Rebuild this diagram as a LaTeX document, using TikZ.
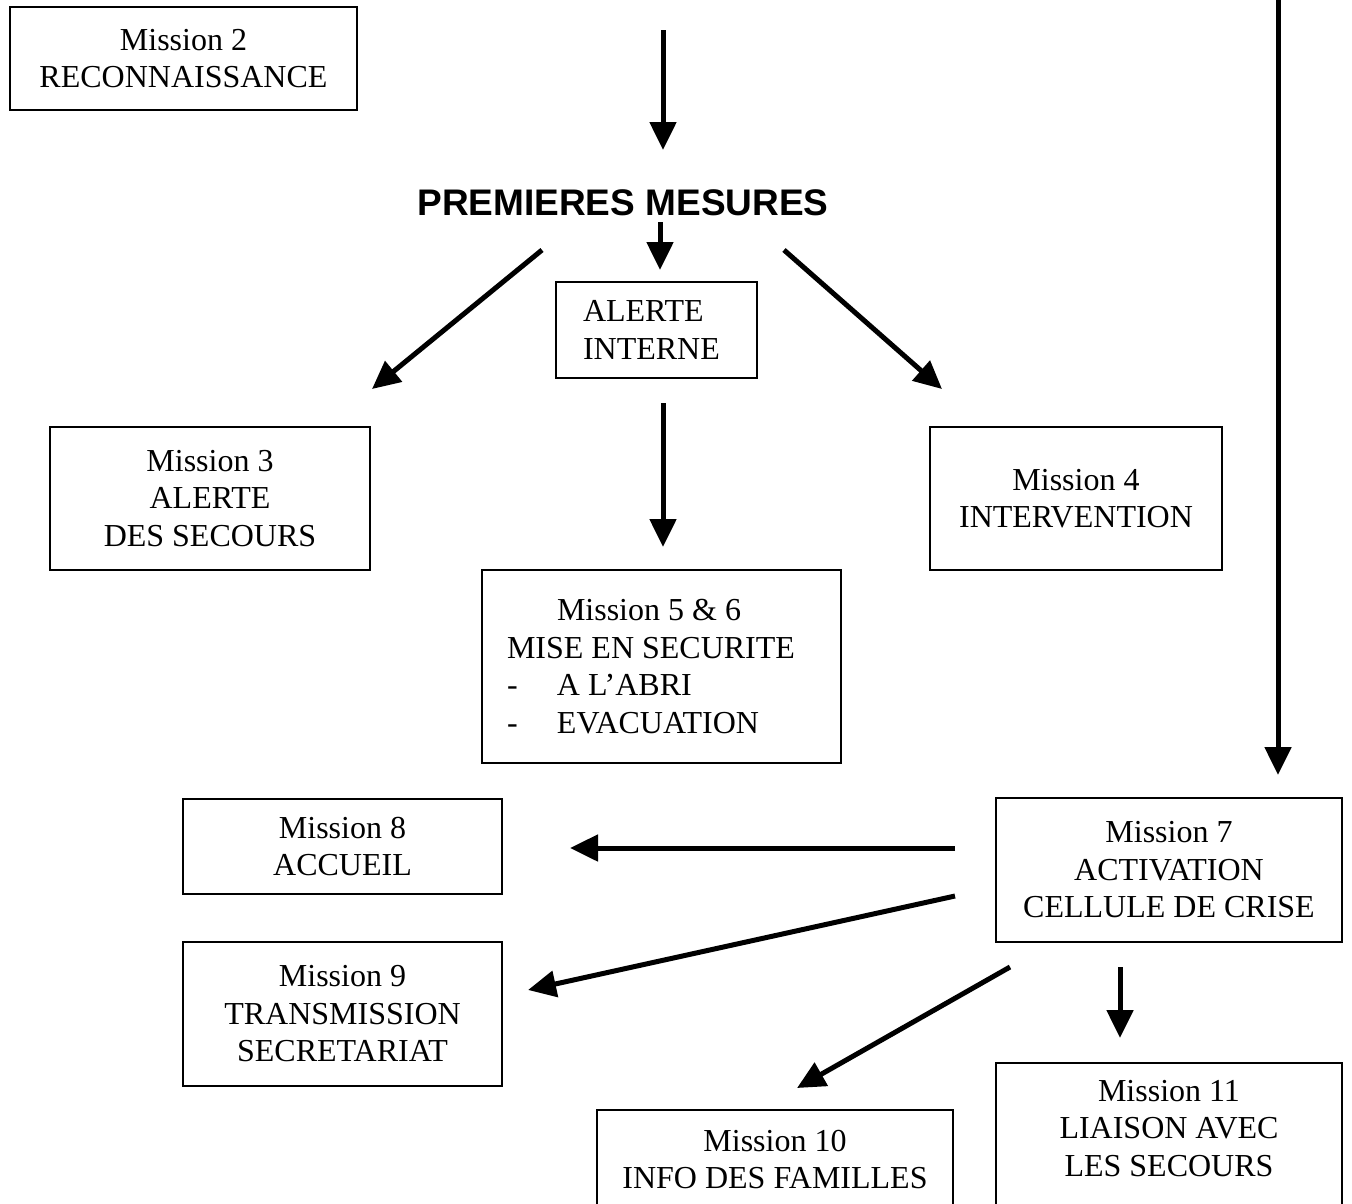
\documentclass[tikz,border=0pt]{standalone}
\usepackage{fontspec}
\setmainfont{Liberation Serif}
\newfontfamily\titlefont{Liberation Sans}
\usetikzlibrary{arrows.meta,positioning}

\begin{document}
\begin{tikzpicture}[x=1pt,y=-1pt,
  box/.style={draw, line width=1.8pt, align=center, inner sep=0pt,
    font=\fontsize{32}{37.5}\selectfont},
  arr/.style={line width=5pt, -{Triangle[length=28pt,width=26pt]}}]
  \useasboundingbox (0,0) rectangle (1352,1203);
  \clip (0,0) rectangle (1352,1203);

  % titre
  \node[font=\titlefont\bfseries\fontsize{37}{40}\selectfont] (pm) at (623,203) {PREMIERES MESURES};

  % cadres
  \node[box, minimum width=347, minimum height=103] (m2) at (183.5,58.5) {Mission 2\\RECONNAISSANCE};
  \node[box, minimum width=201, minimum height=96, text width=147, align=flush left] (ai) at (656.5,330) {ALERTE\\INTERNE};
  \node[box, minimum width=320, minimum height=143] (m3) at (210,498.5) {Mission 3\\ALERTE\\DES SECOURS};
  \node[box, minimum width=292, minimum height=143] (m4) at (1076,498.5) {Mission 4\\INTERVENTION};
  \node[box, minimum width=359, minimum height=193, text width=309, align=flush left] (m56) at (661.5,666.5)
    {\hspace{50pt}Mission 5 \& 6\\MISE EN SECURITE\\\makebox[50pt][l]{-}A L’ABRI\\\makebox[50pt][l]{-}EVACUATION};
  \node[box, minimum width=346, minimum height=144] (m7) at (1169,870) {Mission 7\\ACTIVATION\\CELLULE DE CRISE};
  \node[box, minimum width=319, minimum height=95] (m8) at (342.5,846.5) {Mission 8\\ACCUEIL};
  \node[box, minimum width=319, minimum height=144] (m9) at (342.5,1014) {Mission 9\\TRANSMISSION\\SECRETARIAT};
  \node[box, minimum width=356, minimum height=136] (m10) at (775,1178) {Mission 10\\INFO DES FAMILLES\\~};
  \node[box, minimum width=346, minimum height=168] (m11) at (1169,1147) {Mission 11\\LIAISON AVEC\\LES SECOURS\\~};

  % extremites des fleches
  \coordinate (a0) at (663,30);    \coordinate (a1) at (663,150);
  \coordinate (b0) at (1278,-10);  \coordinate (b1) at (1278,775);
  \coordinate (c0) at (660,222);   \coordinate (c1) at (660,270);
  \coordinate (d0) at (542,250);   \coordinate (d1) at (372,389);
  \coordinate (e0) at (784,250);   \coordinate (e1) at (942,389);
  \coordinate (f0) at (663,403);   \coordinate (f1) at (663,547);
  \coordinate (g0) at (955,848);   \coordinate (g1) at (570,848);
  \coordinate (h0) at (955,896);   \coordinate (h1) at (528,990);
  \coordinate (i0) at (1010,967);  \coordinate (i1) at (797,1088);
  \coordinate (j0) at (1120,967);  \coordinate (j1) at (1120,1038);

  % fleches
  \foreach \p in {a,b,c,d,e,f,g,h,i,j}
    \draw[arr] (\p0) -- (\p1);
\end{tikzpicture}
\end{document}
